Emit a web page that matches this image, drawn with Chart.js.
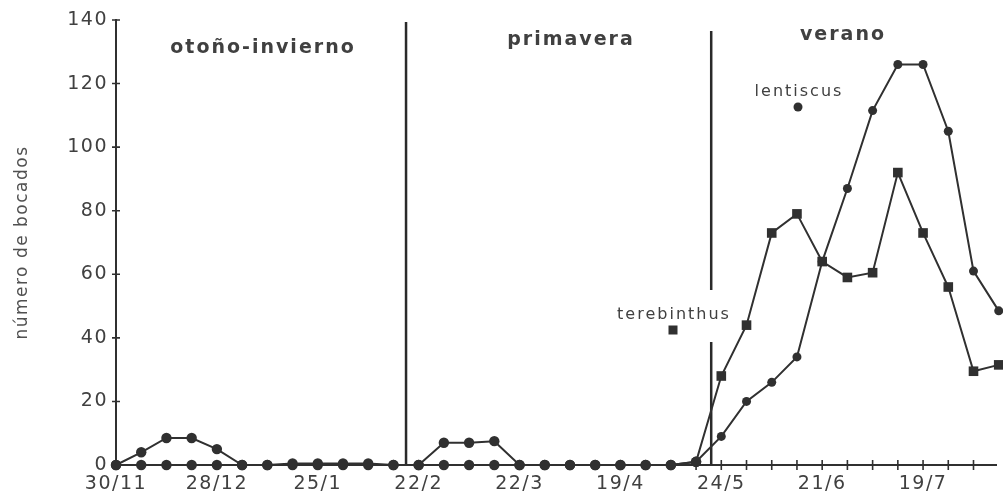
<!DOCTYPE html>
<html>
<head>
<meta charset="utf-8">
<script src="https://cdn.jsdelivr.net/npm/chart.js@4.4.1/dist/chart.umd.min.js"></script>
<style>
  html, body { margin: 0; padding: 0; background: #fff; overflow: hidden; }
  #wrap { width: 1003px; height: 497px; position: relative; }
</style>
</head>
<body>
<div id="wrap"><canvas id="c" width="1003" height="497"></canvas></div>
<script>
// Weekly samples from 30/11 to late July; array index = sample number.
const tickLabels = ['30/11', '28/12', '25/1', '22/2', '22/3', '19/4', '24/5', '21/6', '19/7'];
const tickWeeks  = [0, 4, 8, 12, 16, 20, 24, 28, 32];

// Bites per sample for each species
const lentiscus = [0, 4, 8.5, 8.5, 5, 0, 0, 0.5, 0.5, 0.5, 0.5, 0,
                   0, 7, 7, 7.5, 0, 0, 0, 0, 0, 0, 0, 1,
                   9, 20, 26, 34, 64, 87, 111.5, 126, 126, 105, 61, 48.5];
const terebinthus = [0, 0, 0, 0, 0, 0, 0, 0, 0, 0, 0, 0,
                     0, 0, 0, 0, 0, 0, 0, 0, 0, 0, 0, 1,
                     28, 44, 73, 79, 64, 59, 60.5, 92, 73, 56, 29.5, 31.5];

// Seasons and the sample positions where they change
const seasonNames  = ['otoño-invierno', 'primavera', 'verano'];
const seasonBreaks = [11.5, 23.6];
const yTicks = [0, 20, 40, 60, 80, 100, 120, 140];

const ink = '#303030';
const textInk = '#404040';
const FONT = 'DejaVu Sans';

const summerStart = 24; // first sample drawn with species-specific markers

const toPoints = arr => arr.map((v, i) => ({ x: i, y: v }));

const decor = {
  id: 'decor',
  beforeDraw(chart) {
    chart.ctx.letterSpacing = '1.5px';
  },
  beforeDatasetsDraw(chart) {
    const { ctx, chartArea: ca, scales: { x, y } } = chart;
    ctx.save();
    ctx.strokeStyle = ink;
    ctx.lineWidth = 1.6;
    ctx.beginPath();
    // tick marks crossing the x axis at every sample
    for (let i = 0; i < lentiscus.length; i++) {
      const px = x.getPixelForValue(i);
      if (px > ca.right) break;
      ctx.moveTo(px, ca.bottom - 5);
      ctx.lineTo(px, ca.bottom + 5);
    }
    // tick marks crossing the y axis
    yTicks.forEach(v => {
      const py = y.getPixelForValue(v);
      ctx.moveTo(ca.left - 4, py);
      ctx.lineTo(ca.left + 4, py);
    });
    ctx.stroke();

    // season separators
    ctx.lineWidth = 2.5;
    ctx.strokeStyle = '#2a2a2a';
    const b1 = x.getPixelForValue(seasonBreaks[0]);
    const b2 = x.getPixelForValue(seasonBreaks[1]);
    ctx.beginPath();
    ctx.moveTo(b1, 22); ctx.lineTo(b1, ca.bottom);
    ctx.moveTo(b2, 31); ctx.lineTo(b2, 290);
    ctx.moveTo(b2, 342); ctx.lineTo(b2, ca.bottom);
    ctx.stroke();
    ctx.restore();
  },
  afterDraw(chart) {
    const { ctx } = chart;
    ctx.save();
    ctx.letterSpacing = '2px';
    ctx.fillStyle = textInk;
    ctx.textAlign = 'center';
    ctx.textBaseline = 'alphabetic';
    // season titles
    ctx.font = 'bold 19px "' + FONT + '"';
    ctx.fillText(seasonNames[0], 263, 53);
    ctx.fillText(seasonNames[1], 571, 45);
    ctx.fillText(seasonNames[2], 843, 40);
    // species keys
    ctx.font = '16px "' + FONT + '"';
    ctx.fillText('lentiscus', 799, 96);
    ctx.fillText('terebinthus', 674, 319);
    ctx.fillStyle = ink;
    ctx.beginPath();
    ctx.arc(798, 107, 4.5, 0, Math.PI * 2);
    ctx.fill();
    ctx.fillRect(668.5, 325.5, 9, 9);
    ctx.restore();
  }
};

new Chart(document.getElementById('c'), {
  type: 'line',
  data: {
    datasets: [
      {
        label: 'lentiscus',
        data: toPoints(lentiscus),
        borderColor: ink,
        backgroundColor: ink,
        borderWidth: 2,
        pointStyle: 'circle',
        pointRadius: c => (c.dataIndex < summerStart ? 5.2 : 4.5),
        pointBorderWidth: 0,
        tension: 0,
        clip: false
      },
      {
        label: 'terebinthus',
        data: toPoints(terebinthus),
        borderColor: ink,
        backgroundColor: ink,
        borderWidth: 2,
        pointStyle: c => (c.dataIndex < summerStart ? 'circle' : 'rect'),
        pointRadius: c => (c.dataIndex < summerStart ? 5.2 : 6.8),
        pointBorderWidth: 0,
        tension: 0,
        clip: false
      }
    ]
  },
  options: {
    responsive: false,
    animation: false,
    devicePixelRatio: 1,
    layout: { padding: { top: 20, right: 0, bottom: 0, left: 0 } },
    plugins: { legend: { display: false }, tooltip: { enabled: false } },
    scales: {
      x: {
        type: 'linear',
        min: 0,
        max: 34.9,
        grid: { display: false, drawTicks: false },
        border: { display: true, color: ink, width: 2 },
        afterBuildTicks: scale => {
          scale.ticks = tickWeeks.map(v => ({ value: v }));
        },
        afterFit: scale => { scale.height = 32; },
        ticks: {
          autoSkip: false,
          maxRotation: 0,
          padding: 8,
          color: textInk,
          font: { family: FONT, size: 19 },
          callback: v => {
            const k = tickWeeks.indexOf(v);
            return k >= 0 ? tickLabels[k] : '';
          }
        }
      },
      y: {
        min: 0,
        max: 140,
        grid: { display: false, drawTicks: false },
        border: { display: true, color: ink, width: 2 },
        afterBuildTicks: scale => {
          scale.ticks = yTicks.map(v => ({ value: v }));
        },
        afterFit: scale => { scale.width = 116; },
        ticks: {
          padding: 8,
          color: textInk,
          font: { family: FONT, size: 19 }
        },
        title: {
          display: true,
          text: 'número de bocados',
          color: '#505050',
          font: { family: FONT, size: 17 },
          padding: { top: 12, bottom: 0 }
        }
      }
    }
  },
  plugins: [decor]
});
</script>
</body>
</html>
